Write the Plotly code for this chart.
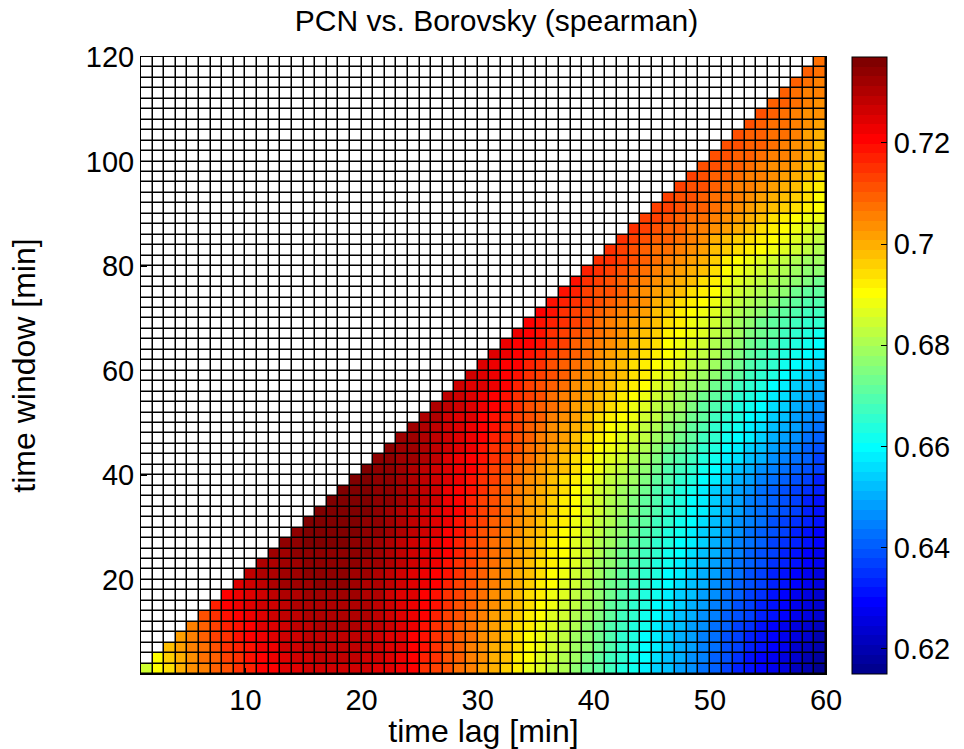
import plotly.graph_objects as go

# Grid edges: time lag (x) and time window (y), both in minutes
lag_edges = list(range(1, 61))
window_edges = list(range(2, 121, 2))

# Spearman correlation (x1000). Row k holds window 2k+2 min; its first value
# belongs to lag k+1 min and the row runs up to lag 59 min (window <= 2*lag).
rho_rows = [
    "685 690 695 699 703 706 709 712 715 717 720 721 724 725 726 727 727 727 727 726 725 724 723 720 716 714 711 708 705 702 699 696 692 689 686 683 680 677 674 671 667 664 661 658 655 652 649 646 643 640 637 634 631 629 627 625 622 619 615",
    "691 696 700 704 707 710 713 716 718 721 722 725 726 727 728 728 728 728 727 726 725 723 720 717 715 712 709 706 703 700 697 693 690 687 684 681 678 675 672 668 665 662 659 656 653 650 647 644 641 638 635 632 630 628 626 623 620 617",
    "697 701 705 708 712 715 717 719 722 723 726 727 728 729 729 729 729 728 727 725 724 721 718 715 712 709 706 703 700 697 694 691 688 685 682 679 676 673 669 666 663 660 657 654 651 648 645 642 639 636 633 631 629 627 624 622 619",
    "702 705 709 713 716 718 720 723 724 726 727 728 729 729 729 729 728 727 725 724 721 718 716 713 710 707 704 701 698 694 691 688 685 682 679 676 673 669 666 663 660 657 654 651 648 645 642 639 636 634 631 629 627 625 623 620",
    "706 710 714 717 719 721 724 725 727 728 729 730 730 730 730 729 728 726 724 722 719 716 713 710 707 704 701 698 695 692 689 686 683 680 677 674 670 667 664 661 658 655 652 649 646 643 640 637 635 632 630 628 626 624 622",
    "712 716 718 720 722 725 726 728 729 730 731 731 731 731 730 729 727 725 723 720 717 714 711 708 705 702 699 696 693 690 687 684 681 678 675 671 668 665 662 659 656 653 650 647 644 641 638 636 633 631 629 627 625 623",
    "717 720 722 724 726 727 729 730 731 731 731 731 731 730 729 727 725 723 721 718 715 712 709 706 703 700 697 694 691 688 685 682 679 676 672 669 666 663 660 657 654 651 648 645 642 639 637 634 632 630 628 626 624",
    "721 723 725 727 728 730 731 732 732 733 733 732 731 730 727 725 724 721 719 716 713 710 707 704 701 698 695 692 689 686 683 680 676 673 670 667 664 661 658 655 652 649 646 643 640 637 635 632 630 628 626 624",
    "725 727 729 730 732 733 733 734 734 734 732 731 730 728 726 724 722 720 717 714 711 708 705 702 699 696 693 690 687 684 681 677 674 671 668 665 662 659 656 653 650 647 644 641 638 636 633 631 629 627 625",
    "728 730 731 732 733 734 734 734 734 733 732 731 729 727 725 723 721 718 715 712 709 706 703 700 697 694 691 688 685 682 678 675 672 669 666 663 660 657 654 651 648 645 642 639 637 634 632 630 628 626",
    "730 731 733 733 734 735 735 735 734 733 732 730 728 726 724 722 719 716 713 710 707 704 701 698 695 692 689 686 683 679 676 673 670 667 664 661 658 655 652 649 646 643 640 638 635 633 631 629 627",
    "732 733 734 735 735 735 735 735 734 733 731 729 727 725 723 720 717 714 711 708 705 702 699 696 693 690 687 684 680 677 674 671 668 665 662 659 656 653 650 647 644 641 639 636 634 632 630 628",
    "734 735 736 736 736 736 735 734 733 731 729 727 725 723 720 717 714 711 708 705 702 699 696 693 690 687 684 681 678 675 672 669 666 663 660 657 654 651 648 645 642 640 637 635 633 631 629",
    "735 736 736 736 736 736 735 734 732 730 728 726 724 721 718 715 712 709 706 703 700 697 694 691 688 685 682 679 676 673 670 667 664 661 658 655 652 649 646 643 641 638 636 634 632 630",
    "736 736 736 736 736 735 734 733 731 729 727 725 722 719 716 713 710 707 704 701 698 695 692 689 686 683 680 677 674 671 668 665 662 659 656 653 650 647 644 642 639 637 635 633 631",
    "736 736 737 737 736 735 733 731 729 727 725 722 720 717 714 711 708 705 702 699 696 693 690 687 684 681 678 675 672 669 666 663 660 657 654 651 648 645 642 640 638 636 634 632",
    "737 737 737 736 735 734 732 730 728 726 723 720 717 714 711 708 705 702 699 696 693 690 687 684 681 678 675 672 669 666 663 660 657 654 651 648 645 643 640 638 636 634 632",
    "737 737 736 735 734 732 730 728 726 723 721 718 715 712 709 706 703 700 697 694 691 688 685 682 679 676 673 670 667 664 661 658 655 652 649 646 643 641 639 637 635 633",
    "737 736 735 734 732 731 729 727 724 722 719 716 713 710 707 704 701 698 695 692 689 686 683 681 678 675 672 669 666 663 660 657 654 651 648 645 643 641 639 636 634",
    "736 735 734 733 731 729 727 725 723 720 717 714 711 708 705 702 699 697 694 691 688 685 682 679 676 673 670 668 665 662 659 656 653 650 647 645 642 640 638 636",
    "735 734 733 732 730 728 725 723 721 718 715 713 710 707 704 701 698 695 692 689 686 684 681 678 675 672 670 667 664 661 658 656 653 650 647 644 642 640 637",
    "734 733 732 730 728 726 724 722 719 716 714 711 708 705 702 700 697 694 691 688 686 683 680 677 674 672 669 666 663 660 658 655 652 649 646 644 641 639",
    "733 732 730 728 726 724 723 720 717 715 712 709 706 703 701 698 695 692 690 687 685 682 679 676 673 671 668 665 662 660 657 654 651 648 646 643 641",
    "732 731 729 727 725 723 721 718 716 713 710 707 704 702 699 697 694 691 689 686 683 680 677 675 672 669 666 664 661 658 656 653 650 648 645 643",
    "731 730 727 725 724 721 719 717 714 711 709 706 704 701 698 695 693 690 688 685 682 679 676 674 671 668 665 663 660 657 654 652 649 646 644",
    "730 728 726 724 722 720 718 715 712 710 707 705 702 700 697 694 692 689 686 683 680 678 675 672 669 667 664 661 659 656 654 651 648 646",
    "728 726 725 723 721 719 716 713 711 708 706 703 701 698 696 693 691 688 685 682 679 677 674 671 669 666 663 661 658 656 653 650 648",
    "727 725 724 722 720 717 714 712 709 707 704 702 699 697 695 692 690 687 684 681 679 676 673 671 668 665 663 660 658 655 652 650",
    "726 724 723 721 718 716 714 711 709 706 704 701 699 697 694 692 689 686 684 681 679 676 673 671 668 665 663 660 658 655 653",
    "725 723 721 720 717 715 712 710 707 705 702 700 698 695 693 691 688 686 683 681 678 675 673 670 667 665 662 660 657 655",
    "724 722 721 719 717 714 712 709 707 704 702 700 697 695 693 690 688 685 683 680 677 675 672 669 667 664 662 659 657",
    "723 721 720 718 715 713 710 708 705 703 701 698 696 694 691 689 686 684 681 678 676 673 671 669 666 664 661 660",
    "722 720 718 716 714 712 710 707 705 703 700 698 696 693 691 688 686 683 680 678 675 673 671 668 666 664 662",
    "721 719 717 715 713 711 708 706 704 701 699 697 694 692 689 687 684 681 679 676 674 672 670 668 666 665",
    "720 718 716 714 712 710 708 706 703 701 698 696 693 691 688 686 683 681 678 676 674 672 670 668 667",
    "719 717 715 713 711 709 707 705 703 700 698 695 693 690 688 685 683 680 678 676 674 672 670 669",
    "718 717 714 712 711 709 706 704 702 700 697 695 692 690 687 685 682 680 678 676 674 672 671",
    "718 716 714 712 710 708 706 703 702 700 697 695 692 689 687 685 683 681 679 677 675 674",
    "717 715 714 712 709 707 705 704 702 699 697 694 691 689 687 685 683 681 679 677 676",
    "716 715 713 711 709 707 706 704 701 699 696 693 691 689 687 685 683 681 679 678",
    "716 714 712 710 708 707 706 703 701 698 696 694 692 690 688 686 684 682 680",
    "715 714 712 710 709 707 705 703 700 698 696 694 692 690 688 686 684 683",
    "715 713 711 710 709 706 705 703 701 699 697 695 693 691 689 687 685",
    "714 713 712 710 708 707 705 703 701 699 697 695 693 691 689 688",
    "714 713 712 710 709 707 706 704 702 700 698 696 694 692 690",
    "713 712 711 710 708 707 705 703 702 700 698 696 694 691",
    "713 712 711 709 708 706 705 703 701 700 698 695 693",
    "713 711 710 709 708 706 705 703 701 699 697 694",
    "712 711 710 709 708 706 704 703 701 698 696",
    "712 711 710 709 708 706 705 703 700 697",
    "712 711 710 709 707 706 704 701 698",
    "711 710 709 708 707 705 702 700",
    "711 710 708 707 705 703 701",
    "711 709 708 706 704 703",
    "710 709 707 705 704",
    "710 708 706 705",
    "709 708 706",
    "709 707",
    "708",
]

x_ticks = [10, 20, 30, 40, 50, 60]
y_ticks = [20, 40, 60, 80, 100, 120]
cbar_ticks = [0.62, 0.64, 0.66, 0.68, 0.70, 0.72]
cbar_labels = ["0.62", "0.64", "0.66", "0.68", "0.7", "0.72"]

FONT = "Liberation Sans, Arial, Helvetica, sans-serif"


def jet(m=64):
    """MATLAB-style jet colormap with m entries."""
    n = m // 4
    u = [i / n for i in range(1, n + 1)] + [1.0] * (n - 1) + [i / n for i in range(n, 0, -1)]
    off = n // 2 - (1 if m % 4 == 1 else 0)

    def pick(k):
        return u[k - 1] if 1 <= k <= len(u) else 0.0

    return [(pick(i - off - n), pick(i - off), pick(i - off + n)) for i in range(1, m + 1)]


# stepped colourscale: each of the 64 jet entries gets a flat band
cmap = jet(64)
colorscale = []
for i, (r, g, b) in enumerate(cmap):
    c = f"rgb({round(r * 255)},{round(g * 255)},{round(b * 255)})"
    colorscale.append([i / len(cmap), c])
    colorscale.append([(i + 1) / len(cmap), c])

# assemble the triangular matrix; cells above window = 2*lag stay empty
ncol = len(lag_edges) - 1
z, empty = [], []
for row in rho_rows:
    vals = [int(v) / 1000 for v in row.split()]
    pad = ncol - len(vals)
    z.append([None] * pad + vals)
    empty.append([1] * pad + [None] * len(vals))

flat = [v for r in z for v in r if v is not None]
zmin, zmax = min(flat), max(flat)

GAP = 1.5

fig = go.Figure()
fig.add_trace(go.Heatmap(
    x=lag_edges, y=window_edges, z=empty,
    colorscale=[[0, "white"], [1, "white"]], zmin=0, zmax=1,
    showscale=False, xgap=GAP, ygap=GAP, hoverinfo="skip",
))
fig.add_trace(go.Heatmap(
    x=lag_edges, y=window_edges, z=z,
    colorscale=colorscale, zmin=zmin, zmax=zmax,
    xgap=GAP, ygap=GAP,
    colorbar=dict(
        x=1.038, xanchor="left", xpad=0, ypad=0,
        y=0.5, yanchor="middle", len=1, lenmode="fraction",
        thickness=35, thicknessmode="pixels",
        outlinewidth=1, outlinecolor="black",
        tickvals=cbar_ticks, ticktext=cbar_labels,
        ticks="inside", ticklen=6, tickcolor="black",
        tickfont=dict(size=29, color="black", family=FONT),
    ),
))

axis_common = dict(
    showline=True, linecolor="black", linewidth=1, mirror=True,
    ticks="inside", ticklen=6, tickcolor="black",
    showgrid=False, zeroline=False,
    tickfont=dict(size=29, color="black", family=FONT),
)

fig.update_layout(
    width=964, height=749,
    margin=dict(l=141, r=138, t=57, b=75, autoexpand=False),
    paper_bgcolor="white", plot_bgcolor="black",
    font=dict(family=FONT, color="black", size=29),
    title=dict(text="PCN vs. Borovsky (spearman)", x=0.519, xref="paper",
               y=1 - 20 / 749, yref="container", xanchor="center", yanchor="middle",
               font=dict(size=30, color="black", family=FONT)),
    xaxis=dict(range=[1, 60], tickvals=x_ticks,
               title=dict(text="time lag [min]", standoff=8,
                          font=dict(size=32, color="black", family=FONT)),
               **axis_common),
    yaxis=dict(range=[2, 120], tickvals=y_ticks,
               title=dict(text="time window [min]", standoff=40,
                          font=dict(size=32, color="black", family=FONT)),
               **axis_common),
)

fig.write_html("out.html")
